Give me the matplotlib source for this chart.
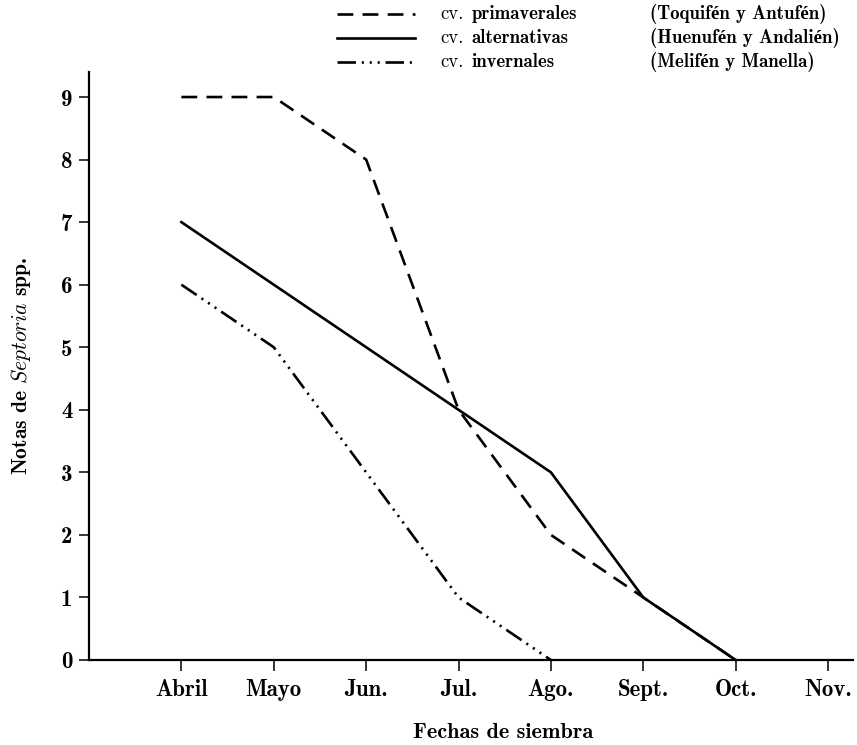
import matplotlib
matplotlib.use("Agg")
import matplotlib.pyplot as plt
from matplotlib.lines import Line2D

plt.rcParams['mathtext.fontset'] = 'cm'
plt.rcParams['axes.unicode_minus'] = False

months = ["Abril", "Mayo", "Jun.", "Jul.", "Ago.", "Sept.", "Oct.", "Nov."]
primaverales = [9, 9, 8, 4, 2, 1, 0]
alternativas_x = [1, 4, 5, 6, 7]
alternativas = [7, 4, 3, 1, 0]
invernales = [6, 5, 3, 1, 0]
yticks = list(range(0, 10))

BOLD = ['cmb10', 'Liberation Serif']
REG = ['cmr10', 'Liberation Serif']

fig = plt.figure(figsize=(8.57, 7.45), dpi=100)
ax = fig.add_axes([89/857, 85/745, 764/857, 588/745])

xp = list(range(1, len(primaverales) + 1))
xi = list(range(1, len(invernales) + 1))
lw = 1.9
DASH = (6, 3.5)
DDD = (7, 2.2, 0.8, 2.2, 0.8, 2.2, 0.8, 2.2)
l1, = ax.plot(xp, primaverales, color='black', lw=lw, dashes=DASH)
l2, = ax.plot(alternativas_x, alternativas, color='black', lw=lw)
l3, = ax.plot(xi, invernales, color='black', lw=lw, dashes=DDD)
for l in (l1, l2, l3):
    l.set_clip_on(False)

ax.set_xlim(0, 8.27)
ax.set_ylim(0, 9.4)
ax.set_xticks(range(1, len(months) + 1))
ax.set_xticklabels(months)
ax.set_yticks(yticks)
ax.set_yticklabels([str(v) for v in yticks])
for t in ax.get_xticklabels() + ax.get_yticklabels():
    t.set_family(BOLD)
    t.set_fontweight('bold')
    t.set_fontsize(16.5)
ax.tick_params(axis='x', direction='out', length=8, width=1.1, pad=6)
ax.tick_params(axis='y', direction='out', length=7, width=1.1, pad=5)
for s in ('top', 'right'):
    ax.spines[s].set_visible(False)
for s in ('left', 'bottom'):
    ax.spines[s].set_linewidth(1.6)

ax.set_xlabel("Fechas de siembra", family=BOLD, fontsize=16)
ax.xaxis.set_label_coords((503 - 89) / 764, -72 / 588)
ax.xaxis.label.set_va('center')
ax.set_ylabel(r"Notas de $\mathit{Septoria}$ spp.", family=BOLD, fontsize=15.5, labelpad=20)

# Legend (manual, in figure pixel coords)
rows = [
    (DASH, "primaverales", "(Toquifén y Antufén)", 14),
    (None, "alternativas", "(Huenufén y Andalién)", 38),
    (DDD, "invernales", "(Melifén y Manella)", 62),
]
W, H = 857, 745
for dash, name, paren, y in rows:
    yy = 1 - y / H
    leg = Line2D([337 / W, 415 / W], [yy, yy], transform=fig.transFigure,
                 color='black', lw=lw)
    if dash is not None:
        leg.set_dashes(dash)
    fig.add_artist(leg)
    fig.text(440 / W, yy, "cv.", family=REG, fontsize=13.5, va='center', ha='left')
    fig.text(472 / W, yy, name, family=BOLD, fontsize=13.5, va='center', ha='left')
    fig.text(650 / W, yy, paren, family=BOLD, fontweight='bold', fontsize=13.5,
             va='center', ha='left')

fig.savefig("out.png", dpi=100)
